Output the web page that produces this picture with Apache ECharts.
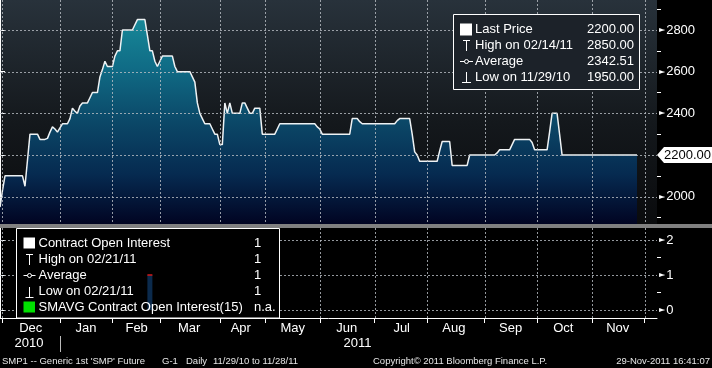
<!DOCTYPE html>
<html><head><meta charset="utf-8">
<script src="https://cdn.jsdelivr.net/npm/echarts@6/dist/echarts.min.js"></script>
<style>html,body{margin:0;padding:0;background:#000;}#c{width:712px;height:368px;}</style>
</head><body><div id="c"></div>
<script>
// Daily settlement prices, trading-day index 0 = 11/29/10 ... 255 = 11/28/11
const prices = [
1950,2030,2100,2100,2100,2100,2100,2100,2100,2100,
2050,2175,2300,2300,2300,2300,2275,2275,2275,2280,
2310,2335,2325,2310,2330,2350,2350,2350,2375,2425,
2410,2400,2435,2450,2450,2450,2475,2500,2500,2500,
2575,2610,2650,2625,2625,2625,2675,2700,2700,2800,
2800,2800,2800,2800,2825,2850,2850,2850,2850,2775,
2700,2700,2650,2625,2650,2675,2675,2675,2675,2675,
2625,2600,2600,2600,2600,2600,2600,2575,2550,2450,
2400,2375,2350,2350,2350,2325,2300,2300,2250,2250,
2450,2400,2450,2400,2400,2400,2400,2450,2450,2425,
2400,2400,2425,2425,2425,2300,2300,2300,2300,2300,
2300,2325,2350,2350,2350,2350,2350,2350,2350,2350,
2350,2350,2350,2350,2350,2350,2350,2335,2325,2300,
2300,2300,2300,2300,2300,2300,2300,2300,2300,2300,
2300,2375,2375,2375,2360,2350,2350,2350,2350,2350,
2350,2350,2350,2350,2350,2350,2350,2350,2350,2365,
2375,2375,2375,2375,2375,2300,2215,2200,2170,2170,
2170,2170,2170,2170,2170,2170,2220,2265,2265,2265,
2265,2150,2150,2150,2150,2150,2150,2150,2200,2200,
2200,2200,2200,2200,2200,2200,2200,2200,2200,2210,
2225,2225,2225,2225,2225,2250,2275,2275,2275,2275,
2275,2275,2275,2260,2225,2225,2225,2225,2225,2225,
2310,2400,2400,2400,2300,2200,2200,2200,2200,2200,
2200,2200,2200,2200,2200,2200,2200,2200,2200,2200,
2200,2200,2200,2200,2200,2200,2200,2200,2200,2200,
2200,2200,2200,2200,2200,2200
];
const axisEndIndex = 263;
const monthStarts = [1,24,45,64,88,106,128,150,171,194,215,237,258];
const monthCenters = [12.3,34.4,54.7,75.7,96.4,117.2,138.8,160.8,181.7,204.4,225.5,247.3];
const monthNames = ['Dec','Jan','Feb','Mar','Apr','May','Jun','Jul','Aug','Sep','Oct','Nov'];
const yearLabels = ['2010','2011'];
const priceTicks = [2000,2200,2400,2600,2800];
const priceMinorTicks = [1900,2100,2300,2500,2700,2900];
const oiTicks = [0,1,2];
const oiMinorTicks = [0.5,1.5];
const oiIndex = [60];
const oiValues = [1];
const lastPrice = 2200;
const legendTop = [['Last Price','2200.00'],['High on 02/14/11','2850.00'],['Average','2342.51'],['Low on 11/29/10','1950.00']];
const legendBottom = [['Contract Open Interest','1'],['High on 02/21/11','1'],['Average','1'],['Low on 02/21/11','1'],['SMAVG Contract Open Interest(15)','n.a.']];
const footerLeft = ["SMP1 -- Generic 1st 'SMP' Future", 'G-1', 'Daily', '11/29/10 to 11/28/11'];
const footerMid = 'Copyright\u00A9 2011 Bloomberg Finance L.P.';
const footerRight = '29-Nov-2011 16:41:07';

const FONT = 'Liberation Sans, Arial, sans-serif';
const chart = echarts.init(document.getElementById('c'), null, {renderer: 'canvas'});

function nearestName(v) {
  let best = 0, bd = 1e9;
  monthCenters.forEach((c, i) => { const d = Math.abs(c - v); if (d < bd) { bd = d; best = i; } });
  return monthNames[best];
}
const yLabelRich = {t: {fontSize: 8, color: '#fff', fontFamily: 'DejaVu Sans', padding: [0, 1, 0, 0]}, v: {fontSize: 13, color: '#fff', fontFamily: FONT}};

const areaGrad = new echarts.graphic.LinearGradient(0, 0, 0, 224, [
  {offset: 0, color: '#1a939f'},
  {offset: 0.3, color: '#106c86'},
  {offset: 0.55, color: '#0b4767'},
  {offset: 0.78, color: '#062a50'},
  {offset: 1, color: '#010422'}
], true);

const option = {
  backgroundColor: '#000',
  animation: false,
  grid: [
    {left: 0, top: 0, width: 657, height: 224, show: true, borderWidth: 0,
     backgroundColor: new echarts.graphic.LinearGradient(0, 0, 0, 1, [
       {offset: 0, color: '#28323b'}, {offset: 0.55, color: '#14181c'}, {offset: 1, color: '#0a0b0d'}])},
    {left: 0, top: 228, width: 657, height: 90, show: false}
  ],
  xAxis: [
    {gridIndex: 0, type: 'value', min: 0, max: axisEndIndex,
     axisLine: {show: false}, axisTick: {show: false}, axisLabel: {show: false}, splitLine: {show: false}},
    {gridIndex: 1, type: 'value', min: 0, max: axisEndIndex,
     axisLine: {show: true, onZero: false, lineStyle: {color: '#fff', width: 1}},
     axisTick: {show: true, length: 5, customValues: monthStarts, lineStyle: {color: '#fff'}},
     axisLabel: {show: true, customValues: monthCenters, formatter: nearestName, color: '#fff',
                 fontSize: 13, fontFamily: FONT, margin: 4},
     splitLine: {show: false}}
  ],
  yAxis: [
    {gridIndex: 0, type: 'value', position: 'right', min: 1869, max: 2944,
     axisLine: {show: true, lineStyle: {color: '#fff'}},
     axisTick: {show: true, length: 5, customValues: priceTicks, lineStyle: {color: '#fff'}},
     axisLabel: {show: true, customValues: priceTicks, margin: 2, formatter: v => '{t|\u25BA}{v|' + v + '}', rich: yLabelRich},
     splitLine: {show: false}},
    {gridIndex: 0, type: 'value', position: 'right', min: 1869, max: 2944,
     axisLine: {show: false},
     axisTick: {show: true, length: 4, customValues: priceMinorTicks, lineStyle: {color: '#fff'}},
     axisLabel: {show: false}, splitLine: {show: false}},
    {gridIndex: 1, type: 'value', position: 'right', min: -0.2286, max: 2.343,
     axisLine: {show: true, lineStyle: {color: '#fff'}},
     axisTick: {show: true, length: 5, customValues: oiTicks, lineStyle: {color: '#fff'}},
     axisLabel: {show: true, customValues: oiTicks, margin: 2, formatter: v => '{t|\u25BA}{v|' + v + '}', rich: yLabelRich},
     splitLine: {show: false}},
    {gridIndex: 1, type: 'value', position: 'right', min: -0.2286, max: 2.343,
     axisLine: {show: false},
     axisTick: {show: true, length: 4, customValues: oiMinorTicks, lineStyle: {color: '#fff'}},
     axisLabel: {show: false}, splitLine: {show: false}}
  ],
  series: [
    {type: 'line', xAxisIndex: 0, yAxisIndex: 0, data: prices.map((v, i) => [i, v]),
     showSymbol: false, symbol: 'none', lineStyle: {color: '#eef2f4', width: 1.5},
     areaStyle: {color: areaGrad, opacity: 1, origin: 'start'}, z: 2},
    {type: 'bar', xAxisIndex: 1, yAxisIndex: 2, data: oiIndex.map((x, i) => [x, oiValues[i]]),
     barWidth: 5, itemStyle: {color: '#0b2a4c'}, z: 12},
    {type: 'scatter', xAxisIndex: 1, yAxisIndex: 2, data: oiIndex.map((x, i) => [x, oiValues[i]]),
     symbol: 'rect', symbolSize: [5, 2], itemStyle: {color: '#c81818'}, z: 13}
  ]
};
chart.setOption(option);

// ----- graphic overlays (grid lines, legends, separator, last price tag, footer) -----
const g = [];
const white = '#ffffff';
function txt(text, x, y, opts) {
  return {type: 'text', z: 20, style: Object.assign({text: text, x: x, y: y, fill: white,
    font: '13px ' + FONT, textVerticalAlign: 'middle', textAlign: 'left'}, opts || {})};
}
function ln(x1, y1, x2, y2, z) {
  return {type: 'line', z: z || 20, shape: {x1: x1, y1: y1, x2: x2, y2: y2}, style: {stroke: white, lineWidth: 1}};
}
function dash(x1, y1, x2, y2) {
  return {type: 'line', z: 3, silent: true, shape: {x1: x1, y1: y1, x2: x2, y2: y2},
    style: {stroke: 'rgba(185,190,196,0.8)', lineWidth: 1, lineDash: [2, 2]}};
}
// grid lines from the axes' scales
const px = v => Math.round(v) + 0.5;
monthStarts.forEach(m => {
  const x = px(chart.convertToPixel({xAxisIndex: 0}, m));
  g.push(dash(x, 0, x, 224));
  g.push(dash(x, 228, x, 318));
});
priceTicks.forEach(t => { const y = px(chart.convertToPixel({yAxisIndex: 0}, t)); g.push(dash(0, y, 657, y)); });
oiTicks.forEach(t => { const y = px(chart.convertToPixel({yAxisIndex: 2}, t)); g.push(dash(0, y, 657, y)); });
// separator
g.push({type: 'rect', z: 15, shape: {x: 0, y: 224, width: 712, height: 4}, style: {fill: '#808080'}});
// top legend box
g.push({type: 'rect', z: 10, shape: {x: 453.5, y: 14.5, width: 186, height: 75}, style: {fill: '#1c2229', stroke: white, lineWidth: 1}});
const topRows = [29.3, 45.3, 61.3, 77.3];
legendTop.forEach((r, i) => {
  g.push(txt(r[0], 475, topRows[i]));
  g.push(txt(r[1], 634, topRows[i], {textAlign: 'right'}));
});
g.push({type: 'rect', z: 20, shape: {x: 460, y: 23.5, width: 12, height: 12}, style: {fill: white}});
g.push(ln(466.5, 40, 466.5, 51)); g.push(ln(463, 40.5, 470, 40.5));
g.push(ln(460, 61.5, 473, 61.5)); g.push({type: 'circle', z: 21, shape: {cx: 466.5, cy: 61.5, r: 2}, style: {fill: '#1c2229', stroke: white, lineWidth: 1}});
g.push(ln(466.5, 72, 466.5, 83)); g.push(ln(462, 82.5, 471, 82.5));
// bottom legend box
g.push({type: 'rect', z: 10, shape: {x: 16.5, y: 228.5, width: 263, height: 89.5}, style: {fill: '#000', stroke: white, lineWidth: 1}});
const botRows = [243.3, 259, 275.5, 291.3, 307.2];
legendBottom.forEach((r, i) => {
  g.push(txt(r[0], 38.5, botRows[i]));
  g.push(txt(r[1], 254, botRows[i]));
});
g.push({type: 'rect', z: 20, shape: {x: 23.5, y: 237.5, width: 11.5, height: 11}, style: {fill: white}});
g.push(ln(29.5, 254, 29.5, 265)); g.push(ln(26, 254.5, 33, 254.5));
g.push(ln(23.5, 275.5, 35.5, 275.5)); g.push({type: 'circle', z: 21, shape: {cx: 29.5, cy: 275.5, r: 2}, style: {fill: '#000', stroke: white, lineWidth: 1}});
g.push(ln(29.5, 287, 29.5, 297.5)); g.push(ln(25.5, 297.5, 33.5, 297.5));
g.push({type: 'rect', z: 20, shape: {x: 23.5, y: 301.5, width: 11.5, height: 11}, style: {fill: '#00e000'}});
// year labels
g.push(txt(yearLabels[0], 29, 343.5, {textAlign: 'center'}));
g.push(txt(yearLabels[1], 357.5, 343.5, {textAlign: 'center'}));
g.push({type: 'line', z: 20, shape: {x1: 60.5, y1: 336, x2: 60.5, y2: 352}, style: {stroke: '#bbb', lineWidth: 1}});
// last price tag
const yLast = chart.convertToPixel({yAxisIndex: 0}, lastPrice);
g.push({type: 'polygon', z: 30, shape: {points: [[657, yLast], [664, yLast - 8], [712, yLast - 8], [712, yLast + 8], [664, yLast + 8]]}, style: {fill: white}});
g.push(Object.assign(txt(lastPrice.toFixed(2), 664, yLast + 0.5, {fill: '#000'}), {z: 31}));
// footer
const fstyle = {font: '9.5px ' + FONT, fill: '#e6e6e6'};
const fx = [2, 162, 186, 213];
footerLeft.forEach((t, i) => g.push(txt(t, fx[i], 361.5, fstyle)));
g.push(txt(footerMid, 373, 361.5, fstyle));
g.push(txt(footerRight, 710, 361.5, Object.assign({textAlign: 'right'}, fstyle)));
chart.setOption({graphic: {elements: g}});
</script>
</body></html>
